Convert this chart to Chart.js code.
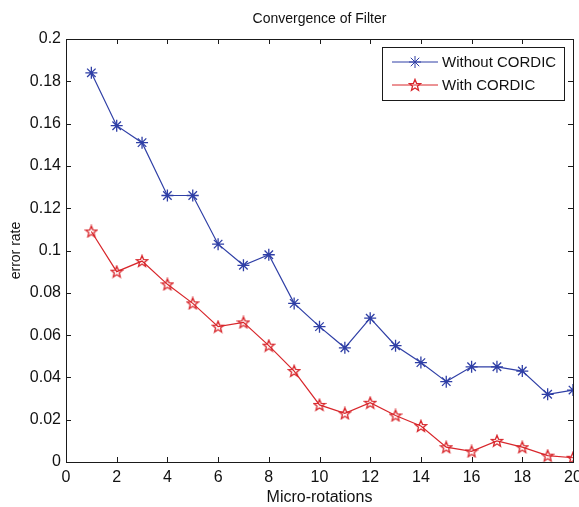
<!DOCTYPE html>
<html>
<head>
<meta charset="utf-8">
<script src="https://cdn.jsdelivr.net/npm/chart.js@4.4.1/dist/chart.umd.min.js"></script>
<style>
  html, body { margin: 0; padding: 0; background: #fff; }
  #wrap { width: 579px; height: 507px; position: relative; }
</style>
</head>
<body>
<div id="wrap"><canvas id="convergenceChart" width="579" height="507"></canvas></div>
<script>
const microRotations = [1, 2, 3, 4, 5, 6, 7, 8, 9, 10, 11, 12, 13, 14, 15, 16, 17, 18, 19, 20];
const withoutCordic = [0.184, 0.159, 0.151, 0.126, 0.126, 0.103, 0.093, 0.098, 0.075, 0.064,
  0.054, 0.068, 0.055, 0.047, 0.038, 0.045, 0.045, 0.043, 0.032, 0.034];
const withCordic = [0.109, 0.090, 0.095, 0.084, 0.075, 0.064, 0.066, 0.055, 0.043, 0.027,
  0.023, 0.028, 0.022, 0.017, 0.007, 0.005, 0.010, 0.007, 0.003, 0.002];
const seriesNames = ["Without CORDIC", "With CORDIC"];
const xTicks = [0, 2, 4, 6, 8, 10, 12, 14, 16, 18, 20];
const yTicks = [0, 0.02, 0.04, 0.06, 0.08, 0.1, 0.12, 0.14, 0.16, 0.18, 0.2];

const blue = "#2f3fa6";
const red = "#d8262b";
const fontFamily = "'Liberation Sans', Arial, sans-serif";

// pentagram marker like matlab 'p'
function makePentagram(color) {
  const c = document.createElement("canvas");
  c.width = 14;
  c.height = 14;
  const g = c.getContext("2d");
  g.strokeStyle = color;
  g.lineWidth = 1.3;
  g.beginPath();
  for (let i = 0; i < 10; i++) {
    const r = i % 2 === 0 ? 6 : 2.6;
    const a = -Math.PI / 2 + i * Math.PI / 5;
    const px = 7 + r * Math.cos(a);
    const py = 7.4 + r * Math.sin(a);
    if (i === 0) g.moveTo(px, py); else g.lineTo(px, py);
  }
  g.closePath();
  g.stroke();
  return c;
}
const pentagram = makePentagram(red);

const frameAndLegend = {
  id: "frameAndLegend",
  afterDraw(chart) {
    const { ctx, chartArea: a, scales } = chart;
    ctx.save();
    ctx.strokeStyle = "#1a1a1a";
    ctx.lineWidth = 1;
    ctx.strokeRect(Math.round(a.left) + 0.5, Math.round(a.top) + 0.5,
      Math.round(a.right - a.left), Math.round(a.bottom - a.top));

    // inward ticks on all sides
    const tl = 5;
    ctx.beginPath();
    xTicks.forEach(v => {
      const px = Math.round(scales.x.getPixelForValue(v)) + 0.5;
      ctx.moveTo(px, a.bottom); ctx.lineTo(px, a.bottom - tl);
      ctx.moveTo(px, a.top); ctx.lineTo(px, a.top + tl);
    });
    yTicks.forEach(v => {
      const py = Math.round(scales.y.getPixelForValue(v)) + 0.5;
      ctx.moveTo(a.left, py); ctx.lineTo(a.left + tl, py);
      ctx.moveTo(a.right, py); ctx.lineTo(a.right - tl, py);
    });
    ctx.stroke();

    // title
    ctx.fillStyle = "#111";
    ctx.font = "14px " + fontFamily;
    ctx.textAlign = "center";
    ctx.textBaseline = "middle";
    ctx.fillText("Convergence of Filter", (a.left + a.right) / 2, 19);

    // legend box
    const bx = 382.5, by = 47.5, bw = 182, bh = 53;
    ctx.fillStyle = "#fff";
    ctx.fillRect(bx, by, bw, bh);
    ctx.strokeStyle = "#1a1a1a";
    ctx.strokeRect(bx, by, bw, bh);
    ctx.font = "15px " + fontFamily;
    ctx.textAlign = "left";
    chart.data.datasets.forEach((ds, i) => {
      const rowY = 62 + i * 23;
      ctx.strokeStyle = ds.borderColor;
      ctx.lineWidth = 1;
      ctx.beginPath();
      ctx.moveTo(392, rowY);
      ctx.lineTo(438, rowY);
      ctx.stroke();
      Chart.helpers.drawPoint(ctx, {
        pointStyle: ds.pointStyle,
        radius: ds.pointRadius,
        borderWidth: ds.pointBorderWidth,
        rotation: 0
      }, 415, rowY);
      ctx.fillStyle = "#111";
      ctx.fillText(ds.label, 442, rowY + 1);
    });
    ctx.restore();
  }
};

new Chart(document.getElementById("convergenceChart"), {
  type: "line",
  data: {
    labels: microRotations,
    datasets: [
      {
        label: seriesNames[0],
        data: microRotations.map((x, i) => ({ x, y: withoutCordic[i] })),
        borderColor: blue,
        backgroundColor: blue,
        borderWidth: 1.2,
        pointStyle: "star",
        pointRadius: 6,
        pointBorderWidth: 1.3,
        pointBorderColor: blue,
        tension: 0,
        fill: false
      },
      {
        label: seriesNames[1],
        data: microRotations.map((x, i) => ({ x, y: withCordic[i] })),
        borderColor: red,
        backgroundColor: red,
        borderWidth: 1.2,
        pointStyle: pentagram,
        pointRadius: 6,
        pointBorderWidth: 1.3,
        tension: 0,
        fill: false
      }
    ]
  },
  options: {
    responsive: false,
    animation: false,
    layout: { autoPadding: false, padding: { top: 39, right: 6, left: 0, bottom: 0 } },
    plugins: {
      legend: { display: false },
      tooltip: { enabled: false },
      title: { display: false }
    },
    scales: {
      x: {
        type: "linear",
        min: 0,
        max: 20,
        afterBuildTicks: s => { s.ticks = xTicks.map(v => ({ value: v })); },
        afterFit: s => { s.height = 45; s.paddingLeft = 0; s.paddingRight = 0; },
        grid: { display: false, drawTicks: false },
        border: { display: false },
        ticks: {
          color: "#111",
          padding: 6,
          maxRotation: 0,
          font: { family: fontFamily, size: 16 },
          callback: v => String(v)
        },
        title: {
          display: true,
          text: "Micro-rotations",
          color: "#111",
          font: { family: fontFamily, size: 16 },
          padding: { top: 0, bottom: 0 }
        }
      },
      y: {
        min: 0,
        max: 0.2,
        afterBuildTicks: s => { s.ticks = yTicks.map(v => ({ value: v })); },
        afterFit: s => { s.width = 66; s.paddingTop = 0; s.paddingBottom = 0; },
        grid: { display: false, drawTicks: false },
        border: { display: false },
        ticks: {
          color: "#111",
          padding: 5,
          font: { family: fontFamily, size: 16 },
          callback: v => String(Math.round(v * 100) / 100)
        },
        title: {
          display: true,
          text: "error rate",
          color: "#111",
          font: { family: fontFamily, size: 14 },
          padding: { top: 8, bottom: 0 }
        }
      }
    }
  },
  plugins: [frameAndLegend]
});
</script>
</body>
</html>
